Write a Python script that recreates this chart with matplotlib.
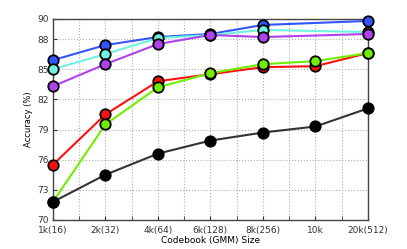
import numpy as np
import matplotlib.pyplot as plt

sizes = ['1k(16)', '2k(32)', '4k(64)', '6k(128)', '8k(256)', '10k', '20k(512)']

# blue / cyan / purple have no 10k entry
idx_short = [0, 1, 2, 3, 4, 6]
blue = [85.9, 87.4, 88.2, 88.5, 89.4, 89.8]
cyan = [85.0, 86.5, 88.1, 88.4, 88.9, 88.7]
purple = [83.3, 85.5, 87.5, 88.4, 88.2, 88.5]

idx_full = [0, 1, 2, 3, 4, 5, 6]
red = [75.5, 80.5, 83.8, 84.5, 85.2, 85.3, 86.6]
green = [71.8, 79.5, 83.2, 84.6, 85.5, 85.8, 86.6]
black = [71.8, 74.5, 76.6, 77.9, 78.7, 79.3, 81.1]

yticks = [70, 73, 76, 79, 82, 85, 88, 90]

fig = plt.figure(figsize=(4.07, 2.49), dpi=100)
ax = fig.add_axes([0.130, 0.1165, 0.774, 0.8075])

def draw(x, y, c, face=None):
    ax.plot(x, y, '-', color=c, lw=1.5, marker='o', ms=7.5,
            mfc=face or c, mec='black', mew=1.3, zorder=3, clip_on=False)

draw(idx_short, blue, '#3355ff')
draw(idx_short, cyan, '#70f2e0')
draw(idx_short, purple, '#b040f0')
draw(idx_full, red, '#ff1010')
draw(idx_full, green, '#70ee00')
draw(idx_full, black, '#333333', face='black')

ax.set_xlim(0, 6)
ax.set_ylim(70, 90)
ax.set_xticks(range(len(sizes)))
ax.set_xticklabels(sizes)
ax.set_xticks(np.arange(0.5, 6, 1), minor=True)
ax.set_yticks(yticks)
ax.tick_params(which='both', direction='in', labelsize=6.5, colors='#333333',
               length=3)
ax.tick_params(axis='x', pad=4)
ax.tick_params(axis='y', pad=3)
ax.grid(True, which='both', linestyle=':', color='#b0b0b0', lw=0.8)
for s in ax.spines.values():
    s.set_color('#444444')
    s.set_linewidth(1.0)

ax.set_xlabel('Codebook (GMM) Size', fontsize=6.5, labelpad=1)
ax.set_ylabel('Accuracy (%)', fontsize=6, labelpad=3)

fig.savefig('out.png', dpi=100)
